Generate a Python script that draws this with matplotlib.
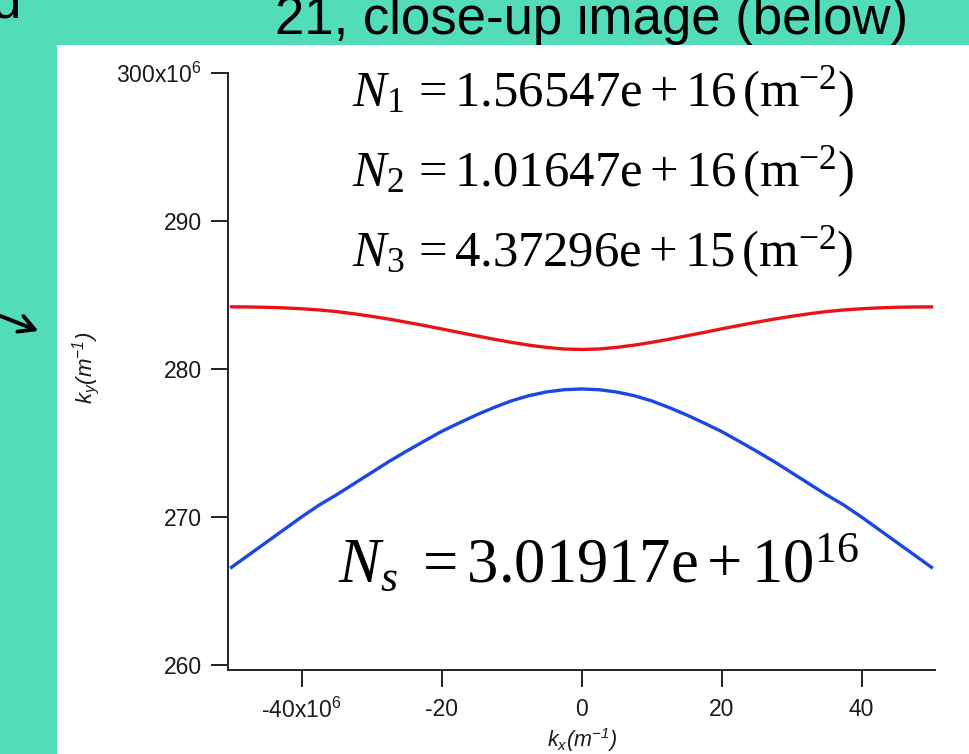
import matplotlib
matplotlib.use("Agg")
import matplotlib.pyplot as plt
from matplotlib.patches import Rectangle, FancyArrowPatch

plt.rcParams["mathtext.fontset"] = "custom"
plt.rcParams["mathtext.rm"] = "Liberation Serif"
plt.rcParams["mathtext.it"] = "Liberation Serif:italic"
plt.rcParams["mathtext.default"] = "regular"

# kx in units of 1e6 m^-1, ky in units of 1e6 m^-1
kx = [-50, -47.5, -45, -42.5, -40, -37.5, -35, -32.5, -30, -27.5, -25, -22.5, -20,
      -17.5, -15, -12.5, -10, -7.5, -5, -2.5, 0, 2.5, 5, 7.5, 10, 12.5, 15, 17.5,
      20, 22.5, 25, 27.5, 30, 32.5, 35, 37.5, 40, 42.5, 45, 47.5, 50]
ky_upper = [284.2, 284.19, 284.17, 284.13, 284.07, 283.99, 283.88, 283.73, 283.56, 283.37,
            283.16, 282.94, 282.71, 282.47, 282.24, 282.01, 281.8, 281.61, 281.46, 281.35,
            281.32, 281.35, 281.46, 281.61, 281.8, 282.01, 282.24, 282.47, 282.71, 282.94,
            283.16, 283.37, 283.56, 283.73, 283.88, 283.99, 284.07, 284.13, 284.17, 284.19,
            284.2]
ky_lower = [266.6, 267.45, 268.3, 269.15, 270.0, 270.8, 271.5, 272.25, 273.0, 273.75,
            274.45, 275.12, 275.78, 276.35, 276.9, 277.4, 277.85, 278.2, 278.45, 278.6,
            278.65, 278.6, 278.45, 278.2, 277.85, 277.4, 276.9, 276.35, 275.78, 275.12,
            274.45, 273.75, 273.0, 272.25, 271.5, 270.8, 270.0, 269.15, 268.3, 267.45,
            266.6]

xticks = [-40, -20, 0, 20, 40]
xtick_labels = ["-40x10$^{6}$", "-20", "0", "20", "40"]
yticks = [260, 270, 280, 290, 300]
ytick_labels = ["260", "270", "280", "290", "300x10$^{6}$"]

notes = [r"$\mathit{N}_{1}\, = 1.56547\mathrm{e} + 16\,(\mathrm{m}^{-2})$",
         r"$\mathit{N}_{2}\, = 1.01647\mathrm{e} + 16\,(\mathrm{m}^{-2})$",
         r"$\mathit{N}_{3}\, = 4.37296\mathrm{e} + 15\,(\mathrm{m}^{-2})$"]
ns_note = r"$\mathit{N}_{\mathit{s}}\ = 3.01917\mathrm{e} + 10^{16}$"

W, H = 969, 754
fig = plt.figure(figsize=(W / 100, H / 100), dpi=100)
fig.patch.set_facecolor("#52DCB9")
fig.patches.append(Rectangle((57 / W, 0), 1, 1 - 45 / H, transform=fig.transFigure,
                             facecolor="white", edgecolor="none", zorder=-1))

fig.text(592 / W, 1 - 34 / H, "21, close-up image (below)", ha="center", va="baseline",
         fontsize=38, family="Liberation Sans", color="black")
fig.text(-8 / W, 1 - 17 / H, "d", ha="left", va="baseline",
         fontsize=38, family="Liberation Sans", color="black")
fig.patches.append(FancyArrowPatch(
    (-2 / W, 1 - 315 / H), (41 / W, 1 - 332 / H), transform=fig.transFigure,
    arrowstyle="->,head_length=11,head_width=6", lw=2.8, color="black"))

# bottom axis sits a few pixels below the 260 tick, as in the original
ax = fig.add_axes([228 / W, 1 - 670 / H, (935 - 228) / W, (670 - 73) / H])
ax.set_facecolor("none")
ax.plot(kx, ky_upper, color="#E8141A", lw=2.4)
ax.plot(kx, ky_lower, color="#1A48E0", lw=2.4)
ax.set_xlim(-50.5, 50.5)
ax.set_ylim(260 - 5 / 14.8, 300)

for s in ["top", "right"]:
    ax.spines[s].set_visible(False)
for s in ["left", "bottom"]:
    ax.spines[s].set_linewidth(1.4)
    ax.spines[s].set_color("#222222")

ax.set_xticks(xticks)
ax.set_xticklabels(xtick_labels)
ax.set_yticks(yticks)
ax.set_yticklabels(ytick_labels)
ax.tick_params(direction="out", length=12, width=1.4, color="#222222", pad=7,
               labelsize=16.5, labelcolor="#1a1a1a")
ax.tick_params(axis="x", pad=8)
for lab in ax.get_xticklabels() + ax.get_yticklabels():
    lab.set_family("Liberation Sans")

fig.text(86 / W, 1 - 368 / H, "k$_y$(m$^{-1}$)", rotation=90, ha="center", va="center",
         fontsize=16, style="italic", family="Liberation Sans", color="#1a1a1a")
fig.text(582 / W, 1 - 740 / H, "k$_x$(m$^{-1}$)", ha="center", va="center",
         fontsize=15.5, style="italic", family="Liberation Sans", color="#1a1a1a")

for i, t in enumerate(notes):
    fig.text(352 / W, 1 - (92 + 80 * i) / H, t, ha="left", va="center",
             fontsize=36.5, family="Liberation Serif", color="black")
fig.text(338 / W, 1 - 565 / H, ns_note, ha="left", va="center",
         fontsize=45, family="Liberation Serif", color="black")

fig.savefig("out.png", dpi=100, facecolor=fig.get_facecolor())
